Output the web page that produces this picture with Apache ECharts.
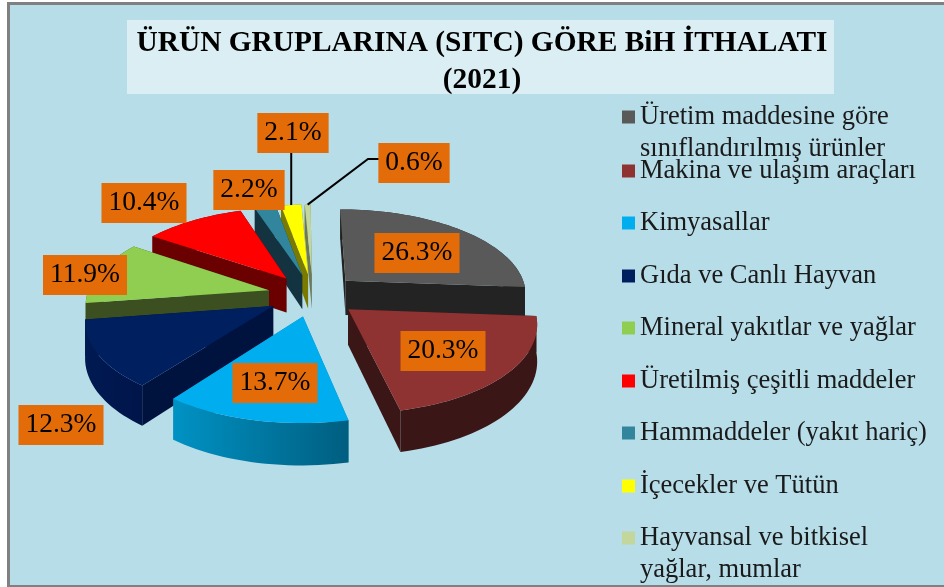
<!DOCTYPE html>
<html><head><meta charset="utf-8">
<style>html,body{margin:0;padding:0;background:#fff}#c{width:944px;height:587px}</style>
<script src="https://cdn.jsdelivr.net/npm/echarts@6/dist/echarts.min.js"></script>
</head><body><div id="c"></div>
<script>
// ---- data ----
const titleText = 'ÜRÜN GRUPLARINA (SITC) GÖRE BiH İTHALATI\n(2021)';
const categories = [
  'Üretim maddesine göre\nsınıflandırılmış ürünler',
  'Makina ve ulaşım araçları',
  'Kimyasallar',
  'Gıda ve Canlı Hayvan',
  'Mineral yakıtlar ve yağlar',
  'Üretilmiş çeşitli maddeler',
  'Hammaddeler (yakıt hariç)',
  'İçecekler ve Tütün',
  'Hayvansal ve bitkisel\nyağlar, mumlar'
];
const values = [26.3, 20.3, 13.7, 12.3, 11.9, 10.4, 2.2, 2.1, 0.6];

// ---- styles ----
const topColors  = ['#595959','#8e3232','#00aeef','#001f5f','#8fce50','#ff0000','#31859c','#ffff00','#c3d69b'];
const wallColors = ['#232323','#3b1616','#0088b5','#00133f','#3c4f20','#6a0000','#12333f','#7a7a00','#6e7a55'];
const rimLeft    = ['#2b2b2b','#3b1616','#0092c4','#001a52','#4a6128','#800000','#1a4a58','#8a8a00','#7d8a60'];
const rimRight   = ['#232323','#3b1616','#005e80','#00154a','#3c4f20','#6a0000','#12333f','#7a7a00','#6e7a55'];
const labelCenters = [[417,253],[443,351],[275,383],[61,425],[85,275],[144,203],[249,190],[293,133],[414,163]];
const legendTops = [117,171,223,276,328,381,433,486,538];
const LINE2 = 32;

// ---- pie projection ----
const CX=313, CY=295, R=182, QR=85/182, PERSP=0.14, H=35, EXPLODE=0.25, START=-0.5;
const total = values.reduce((a,b)=>a+b,0);
const angles = []; { let a=START; values.forEach(v=>{angles.push([a,a+v/total*360]); a+=v/total*360;}); }
function proj(x,y,z){ const w=1/(1-PERSP*y); return [CX+R*x*w, CY+R*QR*y*w+z*w*H]; }
function mid(i){ return (angles[i][0]+angles[i][1])/2*Math.PI/180; }
function point(i,deg,r,z){
  const m=mid(i), t=deg*Math.PI/180;
  return proj(EXPLODE*Math.sin(m)+r*Math.sin(t), -EXPLODE*Math.cos(m)-r*Math.cos(t), z);
}
function cross(p,q,r){ return (q[0]-p[0])*(r[1]-p[1])-(q[1]-p[1])*(r[0]-p[0]); }
function poly(points,fill,z2){ return {type:'polygon',shape:{points},style:{fill,stroke:null},z2}; }

function renderSlice(i){
  const [a0,a1]=angles[i];
  const arcTop=[],arcBot=[]; const n=Math.max(4,Math.ceil((a1-a0)/2));
  for(let k=0;k<=n;k++){ const d=a0+(a1-a0)*k/n; arcTop.push(point(i,d,1,0)); arcBot.push(point(i,d,1,1)); }
  const apexT=point(i,0,0,0), apexB=point(i,0,0,1);
  const top=[apexT].concat(arcTop);
  const rim=arcTop.concat(arcBot.slice().reverse());
  const walls=[[arcTop[0],arcBot[0],arcTop[n]],[arcTop[n],arcBot[n],arcTop[0]]].map(([p,pb,other])=>{
    const front=Math.sign(cross(apexT,p,other))!==Math.sign(cross(apexT,p,[apexT[0],apexT[1]+10]));
    return {front,pts:[apexT,p,pb,apexB]};
  });
  const children=[];
  walls.filter(w=>!w.front).forEach(w=>children.push(poly(w.pts,wallColors[i],1)));
  children.push(poly(rim,new echarts.graphic.LinearGradient(0,0,1,0,[{offset:0,color:rimLeft[i]},{offset:1,color:rimRight[i]}]),2));
  walls.filter(w=>w.front).forEach(w=>children.push(poly(w.pts,wallColors[i],3)));
  children.push(poly(top,topColors[i],4));
  return {type:'group',children};
}
const backToFront = values.map((v,i)=>i).sort((a,b)=>Math.cos(mid(b))-Math.cos(mid(a)));

const pieSeries = categories.map((name,i)=>({
  type:'custom', name, coordinateSystem:'none', data:[values[i]], silent:true, animation:false,
  z:2+backToFront.indexOf(i), itemStyle:{color:topColors[i]},
  renderItem:()=>renderSlice(i)
}));

const labelSeries = {
  type:'custom', name:'labels', coordinateSystem:'none', data:values, silent:true, animation:false, z:30,
  renderItem:(p,api)=>{
    const i=p.dataIndex, [x,y]=labelCenters[i];
    return {type:'text',x,y,style:{
      text:api.value(0).toFixed(1)+'%', fill:'#000', font:'27.5px "Liberation Serif"', align:'center', verticalAlign:'middle',
      backgroundColor:'#e36c09', padding:[6,7,6,7]
    },z2:10};
  }
};
const leaderSeries = {
  type:'custom', name:'leaders', coordinateSystem:'none', data:[7,8], silent:true, animation:false, z:29,
  renderItem:(p,api)=>{
    const i=api.value(0), d=(angles[i][0]+angles[i][1])/2, s=point(i,d,1,0), c=labelCenters[i];
    const pts = i===7 ? [[s[0],s[1]],[s[0],c[1]]] : [[s[0],s[1]],[c[0]-46,c[1]-4],[c[0],c[1]-4]];
    return {type:'polyline',shape:{points:pts},style:{stroke:'#000',lineWidth:2,fill:null}};
  }
};

const legends = categories.map((name,i)=>({
  data:[name], orient:'vertical', left:622, top:legendTops[i]-16, itemWidth:13, itemHeight:13, icon:'rect',
  selectedMode:false, itemGap:0, padding:0,
  formatter:n=>n.split('\n')[0],
  textStyle:{fontFamily:'Liberation Serif',fontSize:26.5,color:'#1a1a1a',lineHeight:32,padding:[0,0,0,0]}
}));
const secondLines = categories.map((name,i)=>[name.split('\n')[1],i]).filter(a=>a[0]).map(([text,i])=>({
  type:'text',left:640,top:legendTops[i]+LINE2-16,
  style:{text,font:'26.5px "Liberation Serif"',fill:'#1a1a1a',lineHeight:32}
}));

const chart = echarts.init(document.getElementById('c'),null,{renderer:'canvas'});
chart.setOption({
  animation:false,
  backgroundColor:'#b7dde8',
  title:{text:titleText,left:482,top:25,textAlign:'center',padding:0,
    textStyle:{fontFamily:'Liberation Serif',fontWeight:'bold',fontSize:29.4,lineHeight:37,color:'#000'}},
  legend:legends,
  graphic:[
    {type:'rect',z:-1,silent:true,shape:{x:127,y:20,width:707,height:74},style:{fill:'#daeef3'}},
    {type:'rect',shape:{x:0,y:0,width:944,height:2},style:{fill:'#fff'},silent:true,z:50},
    {type:'rect',shape:{x:0,y:0,width:7,height:587},style:{fill:'#fff'},silent:true,z:50},
    {type:'rect',shape:{x:7,y:2,width:937,height:3},style:{fill:'#808080'},silent:true,z:50},
    {type:'rect',shape:{x:7,y:2,width:3,height:585},style:{fill:'#808080'},silent:true,z:50},
    {type:'rect',shape:{x:7,y:585,width:937,height:2},style:{fill:'#808080'},silent:true,z:50}
  ].concat(secondLines),
  series:pieSeries.concat([leaderSeries,labelSeries])
});
</script></body></html>
